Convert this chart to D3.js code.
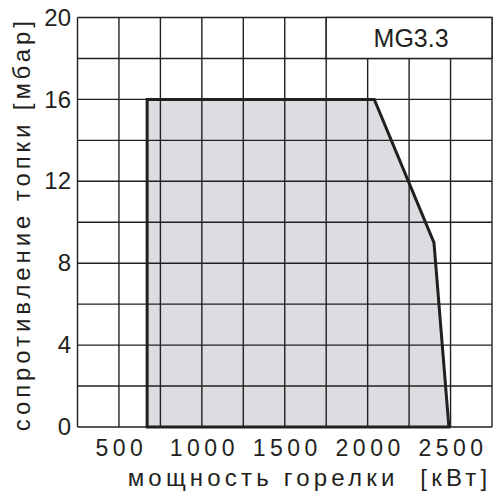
<!DOCTYPE html>
<html>
<head>
<meta charset="utf-8">
<script src="https://cdn.jsdelivr.net/npm/d3@7"></script>
<style>
  body { margin: 0; background: #fff; }
  text { font-family: "Liberation Sans", Arial, sans-serif; fill: #231f20; }
</style>
</head>
<body>
<svg id="chart" width="494" height="493"></svg>
<script>
// Data
var xTickValues = [500, 1000, 1500, 2000, 2500];
var yTickValues = [0, 4, 8, 12, 16, 20];
var gridX = d3.range(250, 2751, 250);
var gridY = d3.range(0, 21, 2);
// working field of the burner: [power kW, pressure mbar]
var fieldPower = [670, 670, 2040, 2400, 2490];
var fieldPressure = [0, 16, 16, 9, 0];
var modelName = "MG3.3";
var xTitle = "мощность горелки  [кВт]";
var yTitle = "сопротивление топки [мбар]";

var svg = d3.select('#chart'),
    margin = {left: 77.5, top: 17.5, right: 2, bottom: 66},
    width = +svg.attr('width') - margin.left - margin.right,
    height = +svg.attr('height') - margin.top - margin.bottom;

var x = d3.scaleLinear().domain([250, 2750]).range([margin.left, margin.left + width]);
var y = d3.scaleLinear().domain([0, 20]).range([margin.top + height, margin.top]);
var ink = '#231f20';

// filled working field
var pts = fieldPower.map(function(p, i){ return [p, fieldPressure[i]]; });
var line = d3.line().x(function(d){ return x(d[0]); }).y(function(d){ return y(d[1]); });
svg.append('path')
    .attr('d', line(pts) + 'Z')
    .attr('fill', '#dcdde0');

// grid
svg.append('g').selectAll('line').data(gridX).enter().append('line')
    .attr('x1', function(d){ return x(d); }).attr('x2', function(d){ return x(d); })
    .attr('y1', y(0)).attr('y2', y(20))
    .attr('stroke', ink).attr('stroke-width', 1.4);
svg.append('g').selectAll('line').data(gridY).enter().append('line')
    .attr('x1', x(250)).attr('x2', x(2750))
    .attr('y1', function(d){ return y(d); }).attr('y2', function(d){ return y(d); })
    .attr('stroke', ink).attr('stroke-width', 1.4);

// label box in the top row
svg.append('rect')
    .attr('x', x(1750)).attr('y', y(20))
    .attr('width', x(2750) - x(1750)).attr('height', y(18) - y(20))
    .attr('fill', '#fff').attr('stroke', ink).attr('stroke-width', 1.4);
svg.append('text')
    .attr('x', (x(1750) + x(2750)) / 2 + 2).attr('y', y(19))
    .attr('dy', '0.35em')
    .attr('text-anchor', 'middle')
    .style('font-size', '25px')
    .text(modelName);

// outline of the field
svg.append('path')
    .attr('d', line(pts) + 'Z')
    .attr('fill', 'none')
    .attr('stroke', ink).attr('stroke-width', 3)
    .attr('stroke-linejoin', 'miter');

// axes (labels only, the grid draws the lines)
var xAxis = d3.axisBottom(x).tickValues(xTickValues).tickFormat(d3.format('d'))
    .tickSize(0).tickPadding(0);
var gx = svg.append('g')
    .attr('transform', 'translate(0,' + (y(0) + 13) + ')')
    .call(xAxis);
gx.select('.domain').remove();
gx.selectAll('text')
    .attr('dy', '0.71em')
    .attr('dx', '2px')
    .attr('font-family', null)
    .style('font-size', '23px')
    .style('letter-spacing', '4.5px');

var yAxis = d3.axisLeft(y).tickValues(yTickValues).tickSize(0).tickPadding(0);
var gy = svg.append('g')
    .attr('transform', 'translate(' + (x(250) - 6.5) + ',0)')
    .call(yAxis);
gy.select('.domain').remove();
gy.selectAll('text')
    .attr('font-family', null)
    .style('font-size', '24px');

// axis titles
svg.append('text')
    .attr('x', 309.5).attr('y', 486)
    .attr('text-anchor', 'middle')
    .style('font-size', '24px')
    .style('letter-spacing', '4.2px')
    .style('white-space', 'pre')
    .text(xTitle);

svg.append('text')
    .attr('transform', 'translate(30,' + ((y(0) + y(20)) / 2 + 2) + ') rotate(-90)')
    .attr('text-anchor', 'middle')
    .style('font-size', '24px')
    .style('letter-spacing', '3.9px')
    .text(yTitle);
</script>
</body>
</html>
